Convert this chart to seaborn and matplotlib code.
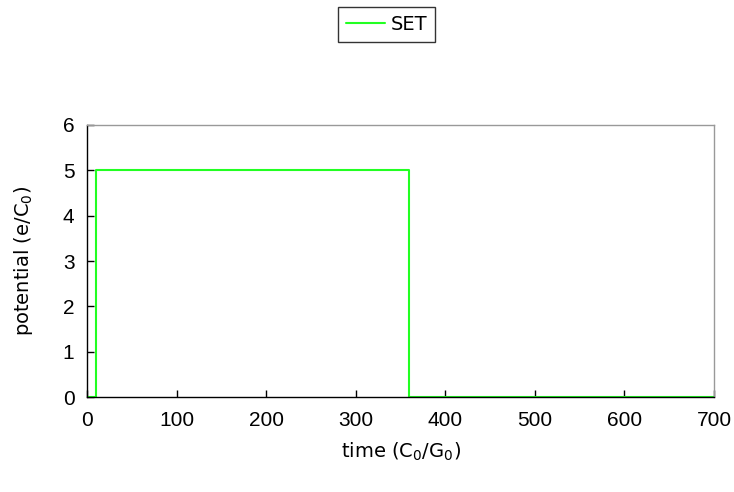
import numpy as np
import pandas as pd
import matplotlib
matplotlib.use("Agg")
import matplotlib.pyplot as plt
import seaborn as sns

# data: SET potential, step changes
time = [0, 10, 360, 700]
potential = [0, 5, 0, 0]

df = pd.DataFrame({"time": time, "potential": potential, "series": "SET"})

sns.set_style("white")
plt.rcParams['font.family'] = ['DejaVu Sans']

fig = plt.figure(figsize=(7.34, 4.92), dpi=100)
ax = fig.add_axes([0.1185, 0.193, 0.8543, 0.553])

sns.lineplot(data=df, x="time", y="potential", hue="series", palette=["#22ff22"],
             estimator=None, sort=False, drawstyle="steps-post", linewidth=1.5, ax=ax)

ax.set_xlim(0, 700)
ax.set_ylim(0, 6)
ax.set_xticks(range(0, 701, 100))
ax.set_yticks(range(0, 7))
ax.tick_params(direction="in", length=5, width=1, pad=9, labelsize=15,
               labelfontfamily="Liberation Sans",
               bottom=True, left=True, colors="black")
ax.tick_params(axis="x", pad=10)

for side in ["top", "right"]:
    ax.spines[side].set_color("#999999")
for side in ["left", "bottom"]:
    ax.spines[side].set_color("black")
for s in ax.spines.values():
    s.set_linewidth(1)

ax.set_xlabel(r"time (C$\mathregular{_0}$/G$\mathregular{_0}$)", fontsize=14, labelpad=8, color="black")
ax.set_ylabel(r"potential (e/C$\mathregular{_0}$)", fontsize=14, labelpad=20, color="black")

ax.legend(loc="center", bbox_to_anchor=(0.478, 1.37), frameon=True, fancybox=False,
          edgecolor="black", fontsize=14, handlelength=2.0, handletextpad=0.3,
          borderpad=0.4, title=None)
leg = ax.get_legend()
leg.get_frame().set_linewidth(1)
for t in leg.get_texts():
    t.set_color("black")

fig.savefig("out.png", dpi=100)
